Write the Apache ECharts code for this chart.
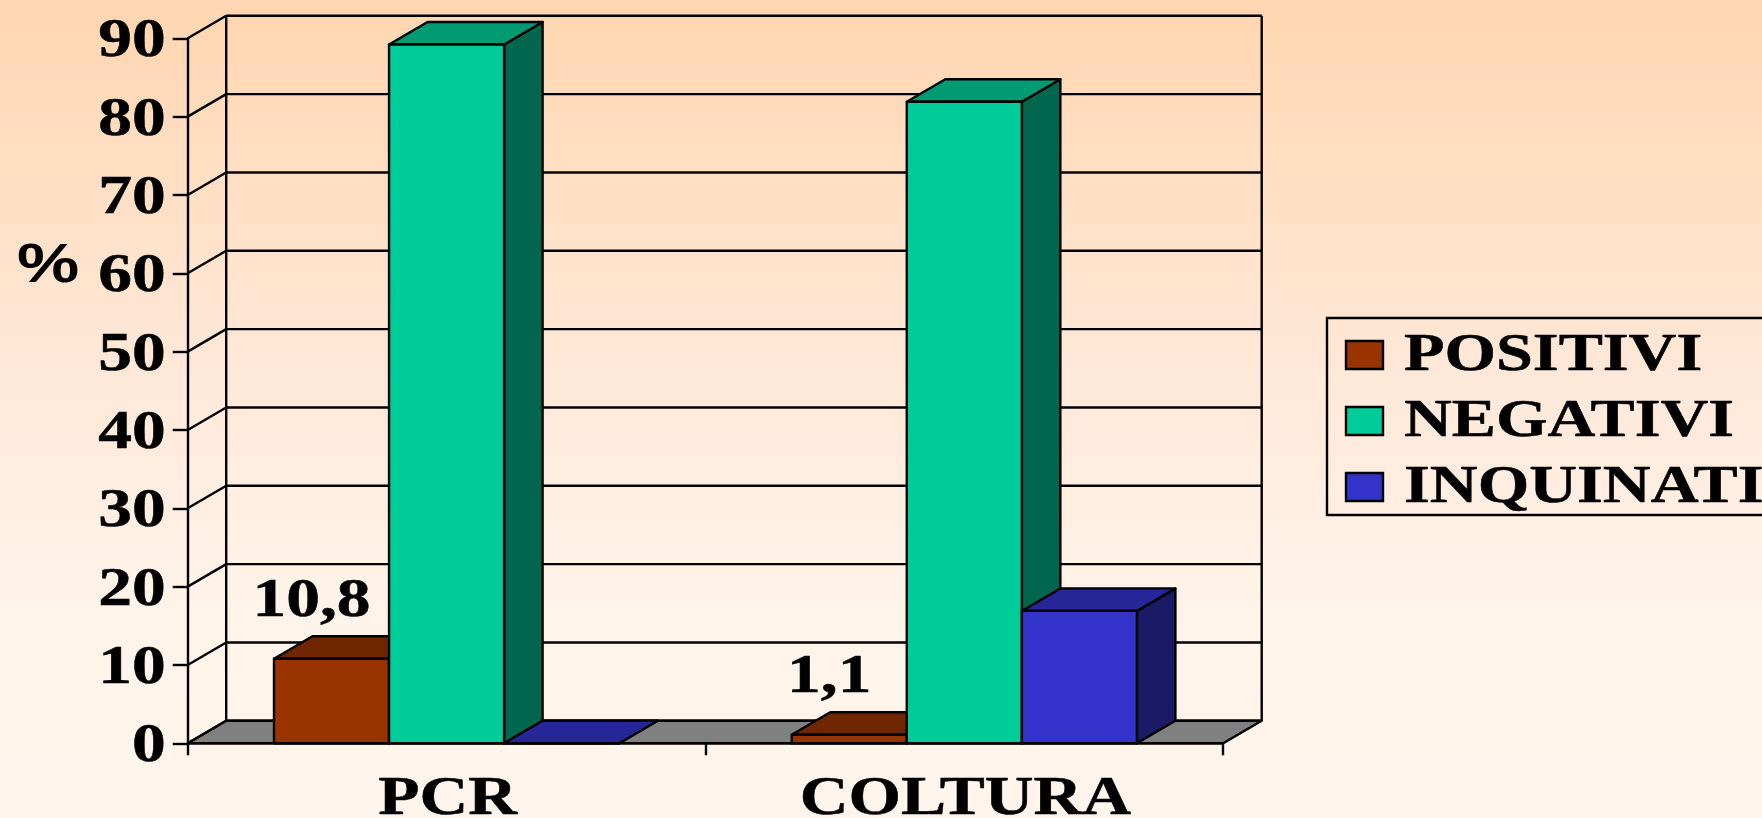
<!DOCTYPE html>
<html><head><meta charset="utf-8">
<style>html,body{margin:0;padding:0;overflow:hidden;background:#fff5ec}#c{width:1762px;height:818px}</style>
<script src="https://cdn.jsdelivr.net/npm/echarts@6/dist/echarts.min.js"></script>
</head><body><div id="c"></div>
<script>
const categories = ['PCR', 'COLTURA'];
const positivi = [10.8, 1.1];
const negativi = [89.2, 81.9];
const inquinati = [0, 16.9];
const positiviLabels = ['10,8', '1,1'];
const yTicks = [0, 10, 20, 30, 40, 50, 60, 70, 80, 90];
const legendNames = ['POSITIVI', 'NEGATIVI', 'INQUINATI'];
const yTitle = '%';

const palette = [
  {front: '#993300', top: '#702600', side: '#4d1a00'},
  {front: '#00CC99', top: '#009A73', side: '#00664D'},
  {front: '#3333CC', top: '#262699', side: '#1A1A66'}
];
const seriesValues = [positivi, negativi, inquinati];
const DX = 38.5, DY = -22.5, INK = '#000', SX = 1.25, LW = 2.4;
const SERIF = 'bold 54px "Liberation Serif"';
const LEGEND_SERIF = 'bold 53px "Liberation Serif"';
const thick = {stroke: INK, lineWidth: 0.5};

const chart = echarts.init(document.getElementById('c'));
const lineStyle = {stroke: INK, lineWidth: LW, fill: null};
const stretched = (x, y, text, align, font, extra) => ({
  type: 'text', x, y, scaleX: SX, silent: true,
  style: Object.assign({text, align, verticalAlign: 'middle', font, fill: INK}, extra || thick)
});
const seg = (x1, y1, x2, y2) => ({type: 'line', shape: {x1, y1, x2, y2}, style: lineStyle, silent: true});
const poly = (points, fill) => ({type: 'polygon', shape: {points}, silent: true,
  style: {fill, stroke: INK, lineWidth: LW, lineJoin: 'round'}});

// back walls and floor
const frameSeries = {
  type: 'custom', coordinateSystem: 'cartesian2d', silent: true,
  data: [[0, 0]],
  renderItem(p, api) {
    const c = p.coordSys, y0 = api.coord([0, 0])[1], yT = api.coord([0, 90])[1];
    const l = c.x, r = c.x + c.width;
    return {type: 'group', children: [
      poly([[l, y0], [r, y0], [r + DX, y0 + DY], [l + DX, y0 + DY]], '#808080'),
      seg(l + DX, yT + DY, r + DX, yT + DY),
      seg(l + DX, yT + DY, l + DX, y0 + DY),
      seg(r + DX, yT + DY, r + DX, y0 + DY),
      seg(l, yT, l + DX, yT + DY)
    ]};
  }
};
const gridSeries = {
  type: 'custom', coordinateSystem: 'cartesian2d', silent: true,
  data: yTicks.slice(0, -1).map(v => [0, v]),
  renderItem(p, api) {
    const c = p.coordSys, y = api.coord([0, api.value(1)])[1];
    const l = c.x, r = c.x + c.width;
    return {type: 'group', children: [
      seg(l, y, l + DX, y + DY),
      seg(l + DX, y + DY, r + DX, y + DY)
    ]};
  }
};
// 3-D bars
const barSeries = legendNames.map((name, si) => ({
  name, type: 'custom', coordinateSystem: 'cartesian2d', silent: true,
  data: seriesValues[si].map((v, i) => [i, v]),
  renderItem(p, api) {
    const col = palette[si];
    const [cx, y] = api.coord([api.value(0), api.value(1)]);
    const y0 = api.coord([0, 0])[1];
    const w = api.size([1, 0])[0] * 2 / 9;
    const a = cx + (si - 1.5) * w, b = a + w;
    return {type: 'group', children: [
      poly([[b, y0], [b + DX, y0 + DY], [b + DX, y + DY], [b, y]], col.side),
      poly([[a, y], [b, y], [b + DX, y + DY], [a + DX, y + DY]], col.top),
      poly([[a, y0], [b, y0], [b, y], [a, y]], col.front)
    ]};
  }
}));
// labels
const yLabelSeries = {
  type: 'custom', coordinateSystem: 'cartesian2d', silent: true,
  data: yTicks.map(v => [0, v]),
  renderItem(p, api) {
    return stretched(p.coordSys.x - 22, api.coord([0, api.value(1)])[1] + 4, String(api.value(1)), 'right', SERIF);
  }
};
const xLabelSeries = {
  type: 'custom', coordinateSystem: 'cartesian2d', silent: true,
  data: categories.map((n, i) => [i, 0]),
  renderItem(p, api) {
    const pt = api.coord([api.value(0), 0]);
    return stretched(pt[0] + 1, pt[1] + 57, categories[api.value(0)], 'center', SERIF);
  }
};
const dataLabelSeries = {
  type: 'custom', coordinateSystem: 'cartesian2d', silent: true,
  data: positivi.map((v, i) => [i, v]),
  renderItem(p, api) {
    const pt = api.coord([api.value(0), api.value(1)]);
    const w = api.size([1, 0])[0] * 2 / 9;
    return stretched(pt[0] - w - 20, pt[1] - 57, positiviLabels[api.value(0)], 'center', SERIF);
  }
};

// legend
const legendRowY = [356, 422, 488];
const legendChildren = [
  {type: 'rect', shape: {x: 1327, y: 318, width: 500, height: 197}, style: {fill: 'transparent', stroke: INK, lineWidth: LW}, silent: true}
];
legendNames.forEach((n, i) => {
  legendChildren.push({type: 'rect', shape: {x: 1346, y: legendRowY[i] - 15, width: 37, height: 28},
    style: {fill: palette[i].front, stroke: INK, lineWidth: LW}, silent: true});
  legendChildren.push(stretched(1404, legendRowY[i], n, 'left', LEGEND_SERIF));
});
legendChildren.push(stretched(48, 267, yTitle, 'center', 'bold 56px "Liberation Sans"',
  {textShadowColor: '#fff', textShadowBlur: 0, textShadowOffsetX: 1.5, textShadowOffsetY: 1.5}));

chart.setOption({
  animation: false,
  tooltip: {show: false},
  backgroundColor: new echarts.graphic.LinearGradient(0, 0, 0, 1, [
    {offset: 0, color: '#FFD6B0'},
    {offset: 0.45, color: '#FFE8D8'},
    {offset: 0.75, color: '#FFF4EA'},
    {offset: 1, color: '#FFF5EC'}
  ]),
  grid: {left: 187.7, top: 38.3, width: 1035.5, height: 705},
  xAxis: {type: 'category', data: categories, boundaryGap: true,
    axisLine: {show: false},
    axisTick: {show: true, length: 12, alignWithLabel: false, lineStyle: {color: INK, width: LW}},
    axisLabel: {show: false}, splitLine: {show: false}},
  yAxis: {type: 'value', min: 0, max: 90, interval: 10,
    axisLine: {show: true, lineStyle: {color: INK, width: LW}},
    axisTick: {show: true, length: 15, lineStyle: {color: INK, width: LW}},
    axisLabel: {show: false}, splitLine: {show: false}},
  graphic: {elements: legendChildren},
  series: [frameSeries, gridSeries].concat(barSeries, [
    {type: 'custom', coordinateSystem: 'cartesian2d', silent: true, data: [[0, 0]],
      renderItem(p, api) { const c = p.coordSys, y = api.coord([0, 0])[1];
        return seg(c.x, y, c.x + c.width, y); }},
    yLabelSeries, xLabelSeries, dataLabelSeries
  ])
});
</script></body></html>
